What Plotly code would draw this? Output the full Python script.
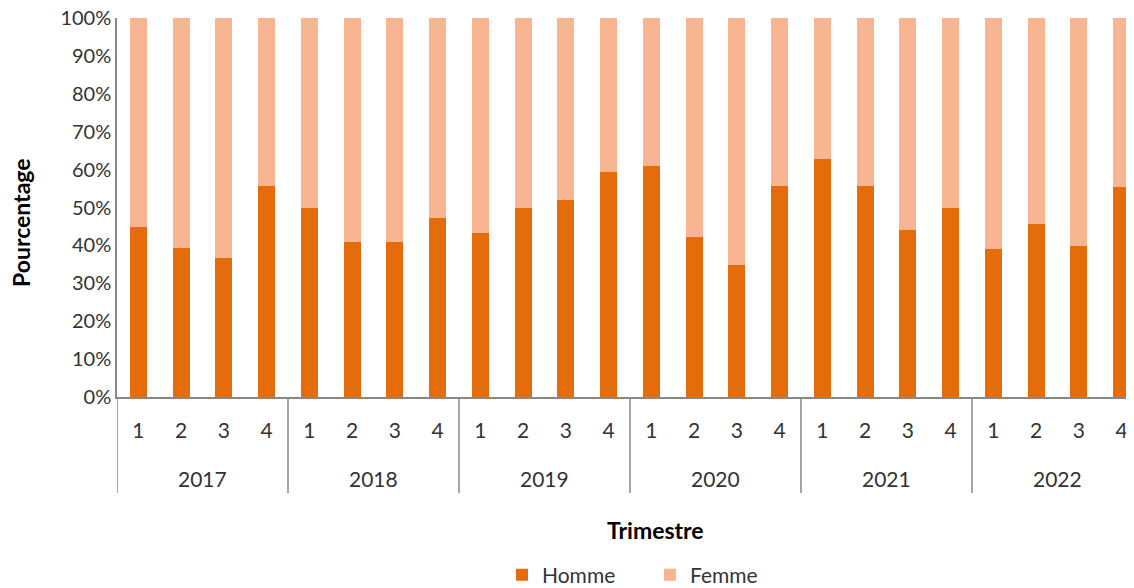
import plotly.graph_objects as go

years = ["2017", "2018", "2019", "2020", "2021", "2022"]
quarters = ["1", "2", "3", "4"]
homme = [44.8, 39.4, 36.6, 55.8,
         50.0, 41.0, 41.0, 47.1,
         43.3, 50.0, 52.0, 59.3,
         60.9, 42.1, 34.8, 55.8,
         62.8, 55.8, 44.1, 50.0,
         39.1, 45.6, 39.8, 55.4]
femme = [round(100 - h, 1) for h in homme]

cats = [f"{y}-{q}" for y in years for q in quarters]
qlabels = [q for _ in years for q in quarters]

FONT = "Lato, Open Sans, sans-serif"
TXT = "#333333"
AX = "#888888"
OFF = 8  # page body margin
W, H = 1134 - OFF, 588 - OFF
L, R, T, B = 117 - OFF, 0, 18 - OFF, 191
ph = H - T - B
pw = W - L - R

def py(px):
    return (H - B - (px - OFF)) / ph

def pxx(px):
    return ((px - OFF) - L) / pw

fig = go.Figure()
fig.add_trace(go.Bar(x=cats, y=homme, name="Homme",
                     marker=dict(color="#E46C0A", line=dict(width=0)), width=0.4))
fig.add_trace(go.Bar(x=cats, y=femme, name="Femme",
                     marker=dict(color="#F8B592", line=dict(width=0)), width=0.4))

ng = len(quarters)
# group dividers and year labels
for i, yr in enumerate(years):
    fig.add_shape(type="line", xref="x", yref="paper",
                  x0=i * ng - 0.5, x1=i * ng - 0.5, y0=0, y1=py(493),
                  line=dict(color=AX, width=1.5))
    fig.add_annotation(x=i * ng + (ng - 1) / 2, xref="x", y=py(478), yref="paper",
                       text=yr, showarrow=False, yanchor="middle",
                       font=dict(family=FONT, size=21, color=TXT))

fig.add_annotation(x=pxx(21), xref="paper", y=py(223), yref="paper",
                   text="<b>Pourcentage</b>", textangle=-90, showarrow=False,
                   xanchor="center", yanchor="middle",
                   font=dict(family=FONT, size=23, color="#000000"))
fig.add_annotation(x=pxx(655), xref="paper", y=py(530), yref="paper",
                   text="<b>Trimestre</b>", showarrow=False,
                   xanchor="center", yanchor="middle",
                   font=dict(family=FONT, size=23, color="#000000"))

fig.update_layout(
    barmode="stack",
    width=W, height=H,
    margin=dict(l=L, r=R, t=T, b=B, autoexpand=False),
    plot_bgcolor="white", paper_bgcolor="white",
    font=dict(family=FONT, size=21, color=TXT),
    legend=dict(orientation="h", x=pxx(502), xanchor="left", y=py(575), yanchor="middle",
                font=dict(size=21, color=TXT), traceorder="normal",
                entrywidth=103, entrywidthmode="pixels"),
    yaxis=dict(range=[0, 100], dtick=10, ticksuffix="%", showgrid=False,
               showline=True, linecolor=AX, linewidth=1.5, zeroline=False,
               automargin=False, ticklabeloverflow="allow",
               tickfont=dict(size=20, color=TXT)),
    xaxis=dict(type="category", categoryorder="array", categoryarray=cats,
               range=[-0.5, 23.29], showgrid=False,
               tickvals=cats, ticktext=qlabels, ticklabelstandoff=14,
               showline=True, linecolor=AX, linewidth=1.5, automargin=False,
               ticklabeloverflow="allow",
               tickfont=dict(size=21, color=TXT)),
)
fig.write_html("out.html")
